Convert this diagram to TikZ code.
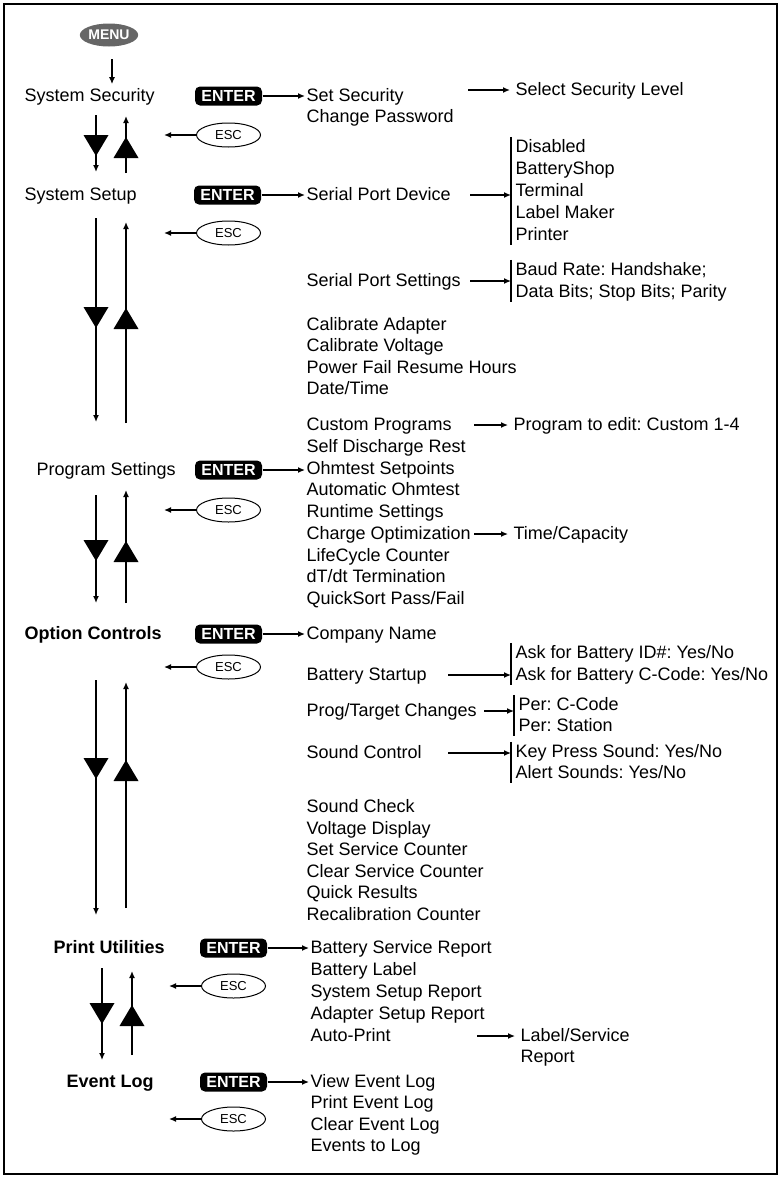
\documentclass[tikz,border=0pt]{standalone}
\usepackage{fontspec}
\setmainfont{Liberation Sans}
\usetikzlibrary{arrows.meta,shapes.geometric,positioning}
\frenchspacing

\newcommand{\downtri}[2]{\fill (#1-12.5,#2) -- (#1+12.5,#2) -- (#1,#2+21) -- cycle;}
\newcommand{\uptri}[2]{\fill (#1-12.5,#2+21) -- (#1+12.5,#2+21) -- (#1,#2) -- cycle;}

\begin{document}
\begin{tikzpicture}[->,>={Latex[length=7pt,width=6pt]},x=1pt,y=-1pt,line width=1.3pt]
  \tikzstyle{item}=[anchor=west,inner sep=1pt,text height=14pt,text depth=3pt,
                    font=\fontsize{18}{21}\selectfont]
  \tikzstyle{head}=[item]
  \tikzstyle{boldhead}=[item,font=\fontsize{18}{21}\selectfont\bfseries]
  \tikzstyle{enterkey}=[fill=black,text=white,rounded corners=5pt,minimum width=67pt,
                        minimum height=19pt,inner sep=0pt,font=\fontsize{16}{16}\selectfont\bfseries]
  \tikzstyle{esckey}=[ellipse,draw,line width=1pt,minimum width=64pt,minimum height=24pt,
                      inner sep=0pt,font=\fontsize{13}{13}\selectfont]
  \tikzstyle{menukey}=[ellipse,fill=black!60,text=white,minimum width=58pt,minimum height=23pt,
                       inner sep=0pt,font=\fontsize{14}{14}\selectfont\bfseries]

  \useasboundingbox (0,0) rectangle (780,1178);
  \draw[-,line width=1.8pt] (4,4) rectangle (777,1174);

  % menu keys down the left side
  \node[menukey]  (menu)  at (109,35)   {MENU};
  \node[head]     (secu)  at (23,96)    {System Security};
  \node[head]     (setup) at (23,195)   {System Setup};
  \node[head]     (prog)  at (35,470)   {Program Settings};
  \node[boldhead] (opt)   at (23,634)   {Option Controls};
  \node[boldhead] (prnt)  at (52,948)   {Print Utilities};
  \node[boldhead] (evlog) at (65,1082)  {Event Log};

  \node[enterkey] (ent1) at (228.5,96)   {ENTER};
  \node[enterkey] (ent2) at (227.5,195)  {ENTER};
  \node[enterkey] (ent3) at (228.5,470)  {ENTER};
  \node[enterkey] (ent4) at (228.5,634)  {ENTER};
  \node[enterkey] (ent5) at (233.5,948)  {ENTER};
  \node[enterkey] (ent6) at (233.5,1082) {ENTER};

  \node[esckey] (esc1) at (228.5,135)  {ESC};
  \node[esckey] (esc2) at (228.5,233)  {ESC};
  \node[esckey] (esc3) at (228.5,510)  {ESC};
  \node[esckey] (esc4) at (228.5,667)  {ESC};
  \node[esckey] (esc5) at (233.5,986)  {ESC};
  \node[esckey] (esc6) at (233.5,1119) {ESC};

  \draw (menu.south) ++(3,12) -- ++(0,25);
  \foreach \n in {1,2,3,4,5,6} \draw (esc\n.west) -- ++(-32,0);

  % up and down between the menus
  \foreach \xa/\ya/\yb/\ta in {96/115/172/135,96/218/422/307,96/495/603/540,
                               96/680/915/758,102/968/1060/1003}
    {\draw (\xa,\ya) -- (\xa,\yb); \downtri{\xa}{\ta}}
  \foreach \xa/\ya/\yb/\ta in {126/173/116/137,126/423/222/308,126/603/490/541,
                               126/908/682/760,132/1055/971/1005}
    {\draw (\xa,\ya) -- (\xa,\yb); \uptri{\xa}{\ta}}

  % system security
  \node[item] (setsec) at (305,96)  {Set Security};
  \node[item] (chpw)   at (305,117) {Change Password};
  \node[item] (selsec) at (514,90)  {Select Security Level};
  \draw (ent1) -- (setsec);
  \draw[<-,shorten <=4pt] (selsec.west) -- ++(-46,0);

  % system setup
  \node[item] (spd) at (305,195) {Serial Port Device};
  \node[item] (sps) at (305,281) {Serial Port Settings};
  \foreach \t [count=\i from 0] in {Calibrate Adapter,Calibrate Voltage,
                                    Power Fail Resume Hours,Date/Time}
    \node[item] (cal\i) at (305,325+21.4*\i) {\t};
  \foreach \t [count=\i from 0] in {Disabled,BatteryShop,Terminal,Label Maker,Printer}
    \node[item] (dev\i) at (514,147+22*\i) {\t};
  \node[item] (baud) at (514,270) {Baud Rate: Handshake;};
  \node[item] (bits) at (514,292) {Data Bits; Stop Bits; Parity};
  \draw (ent2) -- (spd);
  \draw[-] ([xshift=-3pt]dev0.north west) -- ([xshift=-3pt]dev4.south west);
  \draw[<-] ([xshift=-3pt]dev0.north west |- spd) -- ++(-41,0);
  \draw[-] ([xshift=-3pt]baud.north west) -- ([xshift=-3pt]bits.south west);
  \draw[<-] ([xshift=-3pt]baud.north west |- sps) -- ++(-41,0);

  % program settings
  \foreach \t [count=\i from 0] in {Custom Programs,Self Discharge Rest,Ohmtest Setpoints,
                                    Automatic Ohmtest,Runtime Settings,Charge Optimization,
                                    LifeCycle Counter,dT/dt Termination,QuickSort Pass/Fail}
    \node[item] (pg\i) at (305,425+21.75*\i) {\t};
  \node[item] (cust) at (512,425) {Program to edit: Custom 1-4};
  \node[item] (tcap) at (512,534) {Time/Capacity};
  \draw (ent3) -- (ent3 -| pg2.west);
  \draw[<-,shorten <=4pt] (cust.west) -- ++(-38,0);
  \draw[<-,shorten <=4pt] (tcap.west) -- ++(-38,0);

  % option controls
  \node[item] (comp) at (305,634) {Company Name};
  \node[item] (bst)  at (305,675) {Battery Startup};
  \node[item] (ptc)  at (305,711) {Prog/Target Changes};
  \node[item] (snd)  at (305,753) {Sound Control};
  \foreach \t [count=\i from 0] in {Sound Check,Voltage Display,Set Service Counter,
                                    Clear Service Counter,Quick Results,Recalibration Counter}
    \node[item] (oc\i) at (305,807+21.6*\i) {\t};
  \node[item] (askid) at (514,653) {Ask for Battery ID\#: Yes/No};
  \node[item] (askcc) at (514,675) {Ask for Battery C-Code: Yes/No};
  \node[item] (percc) at (517,705) {Per: C-Code};
  \node[item] (perst) at (517,726) {Per: Station};
  \node[item] (keyp)  at (514,752) {Key Press Sound: Yes/No};
  \node[item] (alrt)  at (514,773) {Alert Sounds: Yes/No};
  \draw (ent4) -- (comp);
  \draw[-] ([xshift=-3pt]askid.north west) -- ([xshift=-3pt]askcc.south west);
  \draw[<-] ([xshift=-3pt]askid.north west |- bst) -- ++(-63,0);
  \draw[-] ([xshift=-3pt]percc.north west) -- ([xshift=-3pt]perst.south west);
  \draw[<-] ([xshift=-3pt]percc.north west |- ptc) -- ++(-30,0);
  \draw[-] ([xshift=-3pt]keyp.north west) -- ([xshift=-3pt]alrt.south west);
  \draw[<-] ([xshift=-3pt]keyp.north west |- snd) -- ++(-63,0);

  % print utilities
  \foreach \t [count=\i from 0] in {Battery Service Report,Battery Label,System Setup Report,
                                    Adapter Setup Report,Auto-Print}
    \node[item] (pu\i) at (309,948+22*\i) {\t};
  \node[item] (lbls) at (519,1036) {Label/Service};
  \node[item] (rprt) at (519,1057) {Report};
  \draw (ent5) -- (pu0);
  \draw[<-,shorten <=4pt] (lbls.west) -- ++(-42,0);

  % event log
  \foreach \t [count=\i from 0] in {View Event Log,Print Event Log,Clear Event Log,Events to Log}
    \node[item] (ev\i) at (309,1082+21.4*\i) {\t};
  \draw (ent6) -- (ev0);
\end{tikzpicture}
\end{document}
